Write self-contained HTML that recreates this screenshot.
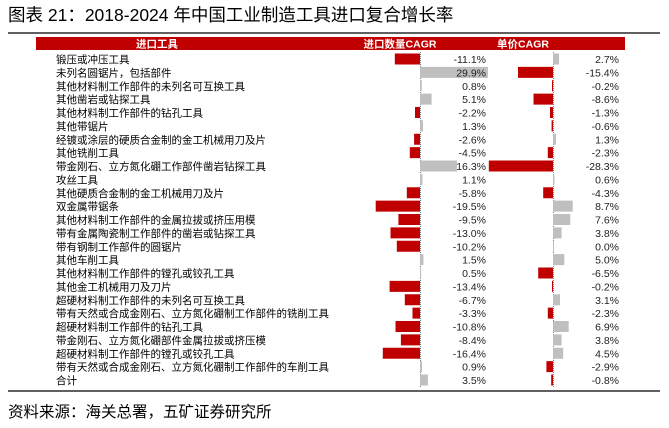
<!DOCTYPE html><html><head><meta charset="utf-8"><style>
body{margin:0;width:669px;height:423px;background:#fff;overflow:hidden}
svg text{font-family:"Liberation Sans","Noto Sans CJK SC",sans-serif}
</style></head><body>
<svg width="669" height="423" xmlns="http://www.w3.org/2000/svg" id="s">
<text x="8" y="21" font-size="17.5" fill="#000">图表 21：2018-2024 年中国工业制造工具进口复合增长率</text>
<line x1="8" y1="33" x2="660" y2="33" stroke="#000" stroke-width="1.2"/>
<rect x="36" y="37" width="589" height="13" fill="#c00000"/>
<text x="157" y="47.5" font-size="10.5" fill="#fff" font-weight="bold" text-anchor="middle">进口工具</text>
<text x="400" y="47.5" font-size="10.5" fill="#fff" font-weight="bold" text-anchor="middle">进口数量CAGR</text>
<text x="523" y="47.5" font-size="10.5" fill="#fff" font-weight="bold" text-anchor="middle">单价CAGR</text>
<line x1="420.5" y1="52" x2="420.5" y2="387" stroke="#777" stroke-dasharray="1,1"/>
<line x1="553.5" y1="52" x2="553.5" y2="387" stroke="#777" stroke-dasharray="1,1"/>
<g id="rows"></g>
<line x1="8" y1="391" x2="660" y2="391" stroke="#000" stroke-width="1.2"/>
<text x="8" y="417" font-size="15.5" fill="#000">资料来源：海关总署，五矿证券研究所</text>
</svg>
<script>
var d=[["锻压或冲压工具",-11.1,2.7],["未列名圆锯片，包括部件",29.9,-15.4],["其他材料制工作部件的未列名可互换工具",0.8,-0.2],["其他凿岩或钻探工具",5.1,-8.6],["其他材料制工作部件的钻孔工具",-2.2,-1.3],["其他带锯片",1.3,-0.6],["经镀或涂层的硬质合金制的金工机械用刀及片",-2.6,1.3],["其他铣削工具",-4.5,-2.3],["带金刚石、立方氮化硼工作部件凿岩钻探工具",16.3,-28.3],["攻丝工具",1.1,0.6],["其他硬质合金制的金工机械用刀及片",-5.8,-4.3],["双金属带锯条",-19.5,8.7],["其他材料制工作部件的金属拉拔或挤压用模",-9.5,7.6],["带有金属陶瓷制工作部件的凿岩或钻探工具",-13.0,3.8],["带有钢制工作部件的圆锯片",-10.2,0.0],["其他车削工具",1.5,5.0],["其他材料制工作部件的镗孔或铰孔工具",0.5,-6.5],["其他金工机械用刀及刀片",-13.4,-0.2],["超硬材料制工作部件的未列名可互换工具",-6.7,3.1],["带有天然或合成金刚石、立方氮化硼制工作部件的铣削工具",-3.3,-2.3],["超硬材料制工作部件的钻孔工具",-10.8,6.9],["带金刚石、立方氮化硼部件金属拉拔或挤压模",-8.4,3.8],["超硬材料制工作部件的镗孔或铰孔工具",-16.4,4.5],["带有天然或合成金刚石、立方氮化硼制工作部件的车削工具",0.9,-2.9],["合计",3.5,-0.8]];
var g=document.getElementById("rows"),h="",k=2.27;
function bar(z,v,y){var w=Math.abs(v)*k;if(w<1)w=1;var x=v<0?z-w:z;return '<rect x="'+x.toFixed(1)+'" y="'+(y-5.5)+'" width="'+w.toFixed(1)+'" height="11" fill="'+(v<0?'#c00000':'#bfbfbf')+'"/>';}
d.forEach(function(r,i){var y=59+i*13.375;
h+='<text x="56" y="'+(y+4)+'" font-size="10.5">'+r[0]+'</text>';
h+=bar(420,r[1],y)+bar(553,r[2],y);
h+='<text x="486" y="'+(y+4)+'" font-size="10.5" fill="#222" text-anchor="end">'+r[1].toFixed(1)+'%</text>';
h+='<text x="619" y="'+(y+4)+'" font-size="10.5" fill="#222" text-anchor="end">'+r[2].toFixed(1)+'%</text>';});
g.innerHTML=h;
</script>
</body></html>
